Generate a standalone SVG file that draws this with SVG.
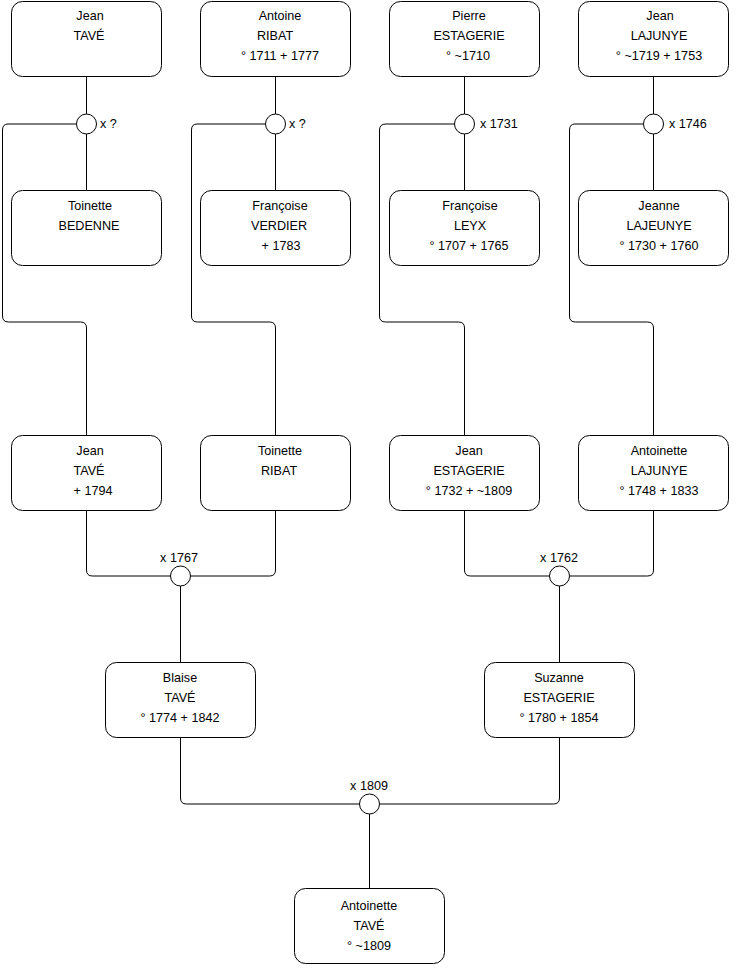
<svg xmlns="http://www.w3.org/2000/svg" width="740" height="975" viewBox="0 0 740 975">
<style>
.box{fill:#fff;stroke:#000;stroke-width:1}
.c{fill:#fff;stroke:#000;stroke-width:1}
.ln{fill:none;stroke:#000;stroke-width:1}
text{font-family:"Liberation Sans",Arial,Helvetica,sans-serif;font-size:12.6px;fill:#000}
.m{text-anchor:middle}
</style>
<rect width="740" height="975" fill="#fff"/>
<g id="connectors">
<path class="ln" d="M86.5,76 V114 M86.5,134 V190 M76.5,124 H8 Q2.5,124 2.5,130 V316 Q2.5,322 8.5,322 H80.5 Q86.5,322 86.5,328 V435"/>
<path class="ln" d="M275.5,76 V114 M275.5,134 V190 M265.5,124 H197 Q191.5,124 191.5,130 V316 Q191.5,322 197.5,322 H269.5 Q275.5,322 275.5,328 V435"/>
<path class="ln" d="M464.5,76 V114 M464.5,134 V190 M454.5,124 H386 Q379.5,124 379.5,130 V316 Q379.5,322 385.5,322 H458.5 Q464.5,322 464.5,328 V435"/>
<path class="ln" d="M653.5,76 V114 M653.5,134 V190 M643.5,124 H575 Q569.5,124 569.5,130 V316 Q569.5,322 575.5,322 H647.5 Q653.5,322 653.5,328 V435"/>
<path class="ln" d="M86.5,510 V570 Q86.5,576 92.5,576 H269.5 Q275.5,576 275.5,570 V510 M180.5,586 V662"/>
<path class="ln" d="M464.5,510 V570 Q464.5,576 470.5,576 H647.5 Q653.5,576 653.5,570 V510 M559.5,586 V662"/>
<path class="ln" d="M180.5,737 V798 Q180.5,804 186.5,804 H553.5 Q559.5,804 559.5,798 V737 M369.5,814 V888"/>
</g>
<g id="m1"><circle class="c" cx="86.5" cy="124" r="10"/><text x="100" y="128">x ?</text></g>
<g id="m2"><circle class="c" cx="275.5" cy="124" r="10"/><text x="289" y="128">x ?</text></g>
<g id="m3"><circle class="c" cx="464.5" cy="124" r="10"/><text x="480" y="128">x 1731</text></g>
<g id="m4"><circle class="c" cx="653.5" cy="124" r="10"/><text x="669" y="128">x 1746</text></g>
<g id="m5"><circle class="c" cx="180.5" cy="576" r="10"/><text class="m" x="179" y="562">x 1767</text></g>
<g id="m6"><circle class="c" cx="559.5" cy="576" r="10"/><text class="m" x="559" y="562">x 1762</text></g>
<g id="m7"><circle class="c" cx="369.5" cy="804" r="10"/><text class="m" x="369" y="790">x 1809</text></g>

<g id="p1"><rect class="box" x="11.5" y="1.5" width="150" height="75" rx="11"/>
<text class="m" x="90" y="20">Jean</text><text class="m" x="89" y="40">TAVÉ</text></g>
<g id="p2"><rect class="box" x="200.5" y="1.5" width="150" height="75" rx="11"/>
<text class="m" x="280" y="20">Antoine</text><text class="m" x="275" y="40">RIBAT</text><text class="m" x="280" y="60">° 1711 + 1777</text></g>
<g id="p3"><rect class="box" x="389.5" y="1.5" width="150" height="75" rx="11"/>
<text class="m" x="469" y="20">Pierre</text><text class="m" x="469" y="40">ESTAGERIE</text><text class="m" x="468" y="60">° ~1710</text></g>
<g id="p4"><rect class="box" x="578.5" y="1.5" width="150" height="75" rx="11"/>
<text class="m" x="660" y="20">Jean</text><text class="m" x="659" y="40">LAJUNYE</text><text class="m" x="659" y="60">° ~1719 + 1753</text></g>

<g id="p5"><rect class="box" x="11.5" y="190.5" width="150" height="75" rx="11"/>
<text class="m" x="90" y="210">Toinette</text><text class="m" x="89" y="230">BEDENNE</text></g>
<g id="p6"><rect class="box" x="200.5" y="190.5" width="150" height="75" rx="11"/>
<text class="m" x="280" y="210">Françoise</text><text class="m" x="279" y="230">VERDIER</text><text class="m" x="281" y="250">+ 1783</text></g>
<g id="p7"><rect class="box" x="389.5" y="190.5" width="150" height="75" rx="11"/>
<text class="m" x="470" y="210">Françoise</text><text class="m" x="470" y="230">LEYX</text><text class="m" x="469" y="250">° 1707 + 1765</text></g>
<g id="p8"><rect class="box" x="578.5" y="190.5" width="150" height="75" rx="11"/>
<text class="m" x="659" y="210">Jeanne</text><text class="m" x="659" y="230">LAJEUNYE</text><text class="m" x="659" y="250">° 1730 + 1760</text></g>

<g id="p9"><rect class="box" x="11.5" y="435.5" width="150" height="75" rx="11"/>
<text class="m" x="90" y="455">Jean</text><text class="m" x="89" y="475">TAVÉ</text><text class="m" x="93" y="495">+ 1794</text></g>
<g id="p10"><rect class="box" x="200.5" y="435.5" width="150" height="75" rx="11"/>
<text class="m" x="280" y="455">Toinette</text><text class="m" x="279" y="475">RIBAT</text></g>
<g id="p11"><rect class="box" x="389.5" y="435.5" width="150" height="75" rx="11"/>
<text class="m" x="469" y="455">Jean</text><text class="m" x="469" y="475">ESTAGERIE</text><text class="m" x="469" y="495">° 1732 + ~1809</text></g>
<g id="p12"><rect class="box" x="578.5" y="435.5" width="150" height="75" rx="11"/>
<text class="m" x="659" y="455">Antoinette</text><text class="m" x="659" y="475">LAJUNYE</text><text class="m" x="659" y="495">° 1748 + 1833</text></g>

<g id="p13"><rect class="box" x="105.5" y="662.5" width="150" height="75" rx="11"/>
<text class="m" x="180" y="682">Blaise</text><text class="m" x="180" y="702">TAVÉ</text><text class="m" x="180" y="722">° 1774 + 1842</text></g>
<g id="p14"><rect class="box" x="484.5" y="662.5" width="150" height="75" rx="11"/>
<text class="m" x="559" y="682">Suzanne</text><text class="m" x="559" y="702">ESTAGERIE</text><text class="m" x="559" y="722">° 1780 + 1854</text></g>
<g id="p15"><rect class="box" x="294.5" y="888.5" width="150" height="75" rx="11"/>
<text class="m" x="369" y="910">Antoinette</text><text class="m" x="369" y="930">TAVÉ</text><text class="m" x="369" y="950">° ~1809</text></g>
</svg>
